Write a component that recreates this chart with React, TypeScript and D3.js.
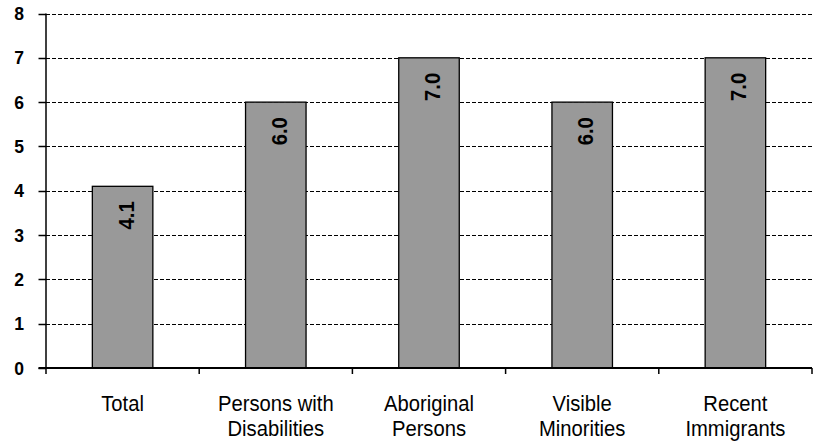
import React from "react";
import * as d3 from "d3";

// Category labels (split into display lines) and their values
const categories: string[] = [
  "Total",
  "Persons with Disabilities",
  "Aboriginal Persons",
  "Visible Minorities",
  "Recent Immigrants",
];
const categoryLines: string[][] = [
  ["Total"],
  ["Persons with", "Disabilities"],
  ["Aboriginal", "Persons"],
  ["Visible", "Minorities"],
  ["Recent", "Immigrants"],
];
const values: number[] = [4.1, 6.0, 7.0, 6.0, 7.0];
const yTicks: number[] = [0, 1, 2, 3, 4, 5, 6, 7, 8];

const W = 814;
const H = 442;
const margin = { left: 46, right: 2, top: 13.5, bottom: 74 };
const FONT = "'Liberation Sans', Arial, sans-serif";
// horizontal squeeze factors giving a condensed face
const SQ_X_LABEL = 0.92;
const SQ_VALUE = 0.9;
const SQ_Y_LABEL = 0.95;

export default function App() {
  const x0 = margin.left;
  const x1 = W - margin.right;
  const y0 = H - margin.bottom;
  const y1 = margin.top;

  const y = d3.scaleLinear().domain([0, 8]).range([y0, y1]);
  const band = d3.scaleBand<string>().domain(categories).range([x0, x1]).padding(0);
  const bars = d3
    .scaleBand<string>()
    .domain(categories)
    .range([x0, x1])
    .paddingInner(0.605)
    .paddingOuter(0.3025);

  const boundaries = [...categories.map((c) => band(c) as number), x1];
  const crisp = (v: number) => Math.round(v) + 0.5;

  return (
    <div style={{ position: "fixed", left: 0, top: 0 }}>
      <svg width={W} height={H} style={{ display: "block", background: "#fff" }}>
        {/* dashed gridlines */}
        {yTicks
          .filter((t) => t > 0)
          .map((t) => (
            <line
              key={"g" + t}
              x1={x0}
              x2={x1}
              y1={crisp(y(t))}
              y2={crisp(y(t))}
              stroke="#000"
              strokeWidth={1.2}
              strokeDasharray="4,2"
            />
          ))}

        {/* bars */}
        {categories.map((c, i) => (
          <rect
            key={c}
            x={bars(c)}
            y={y(values[i])}
            width={bars.bandwidth()}
            height={y0 - y(values[i])}
            fill="#999999"
            stroke="#000"
            strokeWidth={1.3}
          />
        ))}

        {/* value labels */}
        {categories.map((c, i) => {
          const cx = (bars(c) as number) + bars.bandwidth() / 2 + 11;
          const cy = y(values[i]) + 15;
          return (
            <text
              key={"v" + c}
              transform={`translate(${cx},${cy}) rotate(-90) scale(${SQ_VALUE},1)`}
              textAnchor="end"
              fontFamily={FONT}
              fontWeight="bold"
              fontSize={22.5}
              fill="#000"
            >
              {values[i].toFixed(1)}
            </text>
          );
        })}

        {/* y axis */}
        <line x1={x0} x2={x0} y1={y1} y2={y0} stroke="#000" strokeWidth={1.5} />
        {yTicks.map((t) => (
          <g key={"y" + t}>
            <line x1={x0 - 7.5} x2={x0} y1={crisp(y(t))} y2={crisp(y(t))} stroke="#000" strokeWidth={1.5} />
            <text
              transform={`translate(24,${y(t)}) scale(${SQ_Y_LABEL},1)`}
              dy="0.36em"
              textAnchor="end"
              fontFamily={FONT}
              fontWeight="bold"
              fontSize={18.5}
              fill="#000"
            >
              {t}
            </text>
          </g>
        ))}

        {/* x axis */}
        <line x1={x0 - 7.5} x2={x1} y1={y0} y2={y0} stroke="#000" strokeWidth={2} />
        {boundaries.map((bx, i) => (
          <line key={"xt" + i} x1={bx} x2={bx} y1={y0} y2={y0 + 6} stroke="#000" strokeWidth={1.5} />
        ))}
        {categories.map((c, i) => {
          const cx = (band(c) as number) + band.bandwidth() / 2;
          return (
            <text
              key={"xl" + c}
              transform={`translate(${cx},411) scale(${SQ_X_LABEL},1)`}
              textAnchor="middle"
              fontFamily={FONT}
              fontSize={22}
              fill="#000"
            >
              {categoryLines[i].map((line, j) => (
                <tspan key={j} x={0} y={j * 25}>
                  {line}
                </tspan>
              ))}
            </text>
          );
        })}
      </svg>
    </div>
  );
}
